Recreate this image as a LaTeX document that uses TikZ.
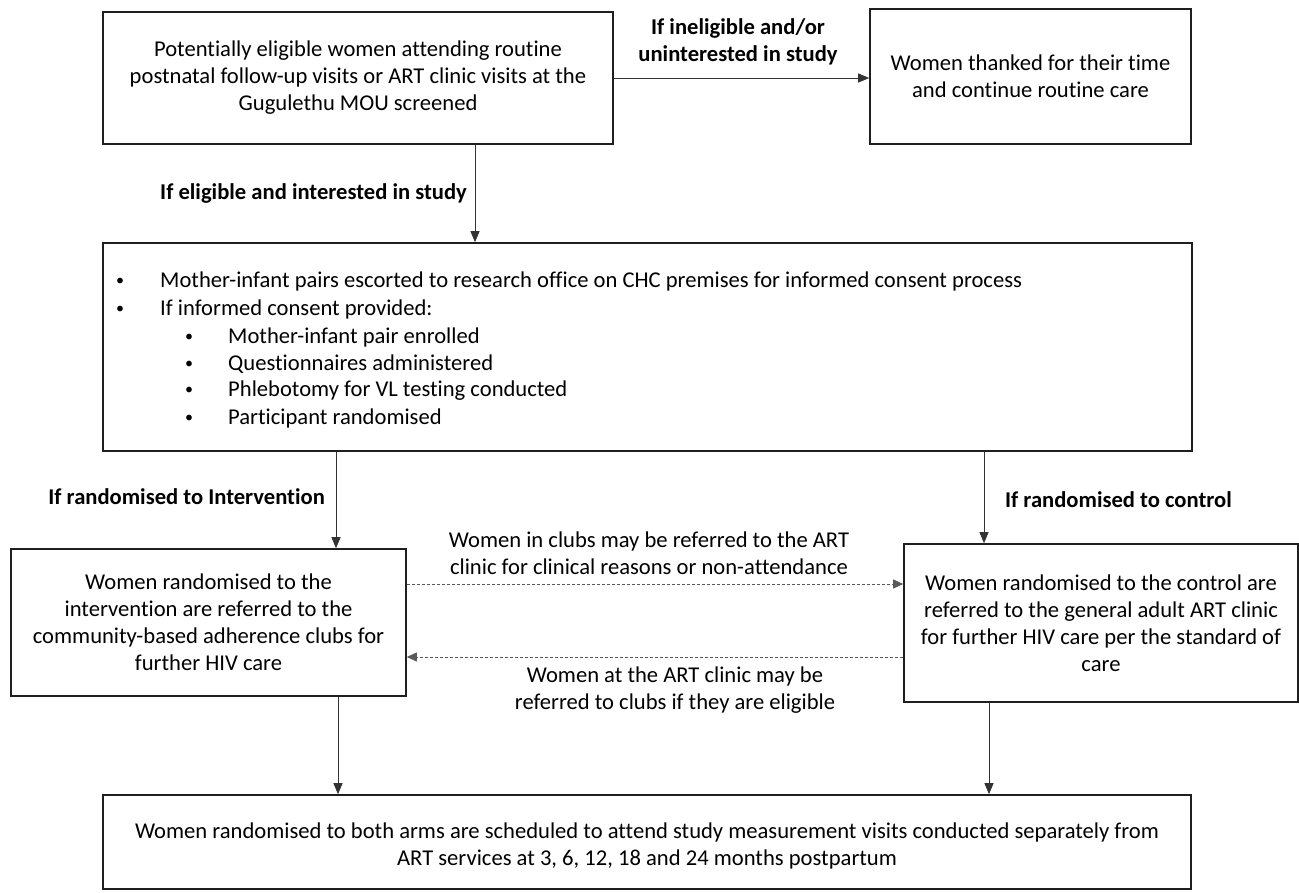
\documentclass[tikz,border=0pt]{standalone}
\usepackage{fontspec}
\setmainfont{Carlito}[Ligatures=NoCommon]
\usetikzlibrary{arrows.meta,calc}
\newcommand\diagfont{\fontsize{22.6}{27}\selectfont}
\newcommand\smallbul{\raisebox{1.5pt}{\fontsize{16}{16}\selectfont •}}
\tikzset{
  box/.style={draw=black!88, line width=1.6pt, inner sep=0pt, align=center, font=\diagfont},
  lbl/.style={inner sep=0pt, align=center, font=\diagfont\bfseries},
  note/.style={inner sep=0pt, align=center, font=\diagfont},
  item/.style={inner sep=0pt, anchor=base west, font=\diagfont},
  arr/.style={draw=black!80, line width=0.9pt, -{Triangle[length=11pt,width=9pt]}},
  darr/.style={draw=black!65, line width=0.8pt, dash pattern=on 3pt off 2pt, -{Triangle[length=10pt,width=9pt]}}
}
\begin{document}
\begin{tikzpicture}[x=1pt,y=-1pt]
\useasboundingbox (0,0) rectangle (1299,892);
% boxes
\node[box, minimum width=510pt, minimum height=132pt] (b1) at (358,78)
  {Potentially eligible women attending routine\\postnatal follow-up visits or ART clinic visits at the\\Gugulethu MOU screened};
\node[box, minimum width=321pt, minimum height=135pt] (b2) at (1030.5,76.5)
  {Women thanked for their time\\and continue routine care};
\node[box, minimum width=1089pt, minimum height=208pt] (b3) at (647.5,347) {};
\node[box, minimum width=395pt, minimum height=147pt] (iv) at (208.5,622.5)
  {Women randomised to the\\intervention are referred to the\\community-based adherence clubs for\\further HIV care};
\node[box, minimum width=394pt, minimum height=158pt] (ct) at (1101,623)
  {Women randomised to the control are\\referred to the general adult ART clinic\\for further HIV care per the standard of\\care};
\node[box, minimum width=1088pt, minimum height=94pt] (b4) at (647,842) {};
\node[note] (b4t) at (647,846)
  {Women randomised to both arms are scheduled to attend study measurement visits conducted separately from\\ART services at 3, 6, 12, 18 and 24 months postpartum};
% bullet list in box 3
\node[item] (p1) at (116,287) {\smallbul};
\node[item] (t1) at (160,287) {Mother-infant pairs escorted to research office on CHC premises for informed consent process};
\node[item] (p2) at (116,315) {\smallbul};
\node[item] (t2) at (160,315) {If informed consent provided:};
\node[item] (p3) at (185,343) {\smallbul};
\node[item] (t3) at (228,343) {Mother-infant pair enrolled};
\node[item] (p4) at (185,370) {\smallbul};
\node[item] (t4) at (228,370) {Questionnaires administered};
\node[item] (p5) at (185,396) {\smallbul};
\node[item] (t5) at (228,396) {Phlebotomy for VL testing conducted};
\node[item] (p6) at (185,424) {\smallbul};
\node[item] (t6) at (228,424) {Participant randomised};
% labels
\node[lbl] (l1) at (738,41.5) {If ineligible and/or\\uninterested in study};
\node[lbl, anchor=east] (l2) at (467,193) {If eligible and interested in study};
\node[lbl, anchor=east] (l3) at (325,497) {If randomised to Intervention};
\node[lbl, anchor=west] (l4) at (1005,500) {If randomised to control};
\node[note] (l5) at (649,553.5) {Women in clubs may be referred to the ART\\clinic for clinical reasons or non-attendance};
\node[note] (l6) at (675,690) {Women at the ART clinic may be\\referred to clubs if they are eligible};
% connector columns
\coordinate (x1) at (475,0);
\coordinate (x2) at (336,0);
\coordinate (x3) at (984,0);
\coordinate (x4) at (338,0);
\coordinate (x5) at (989,0);
\coordinate (y1) at (0,584);
\coordinate (y2) at (0,657);
% connectors
\draw[arr] (b1.east) -- (b1.east -| b2.west);
\draw[arr] (x1 |- b1.south) -- (x1 |- b3.north);
\draw[arr] (x2 |- b3.south) -- (x2 |- iv.north);
\draw[arr] (x3 |- b3.south) -- (x3 |- ct.north);
\draw[arr] (x4 |- iv.south) -- (x4 |- b4.north);
\draw[arr] (x5 |- ct.south) -- (x5 |- b4.north);
\draw[darr] (y1 -| iv.east) -- (y1 -| ct.west);
\draw[darr] (y2 -| ct.west) -- (y2 -| iv.east);
\end{tikzpicture}
\end{document}
